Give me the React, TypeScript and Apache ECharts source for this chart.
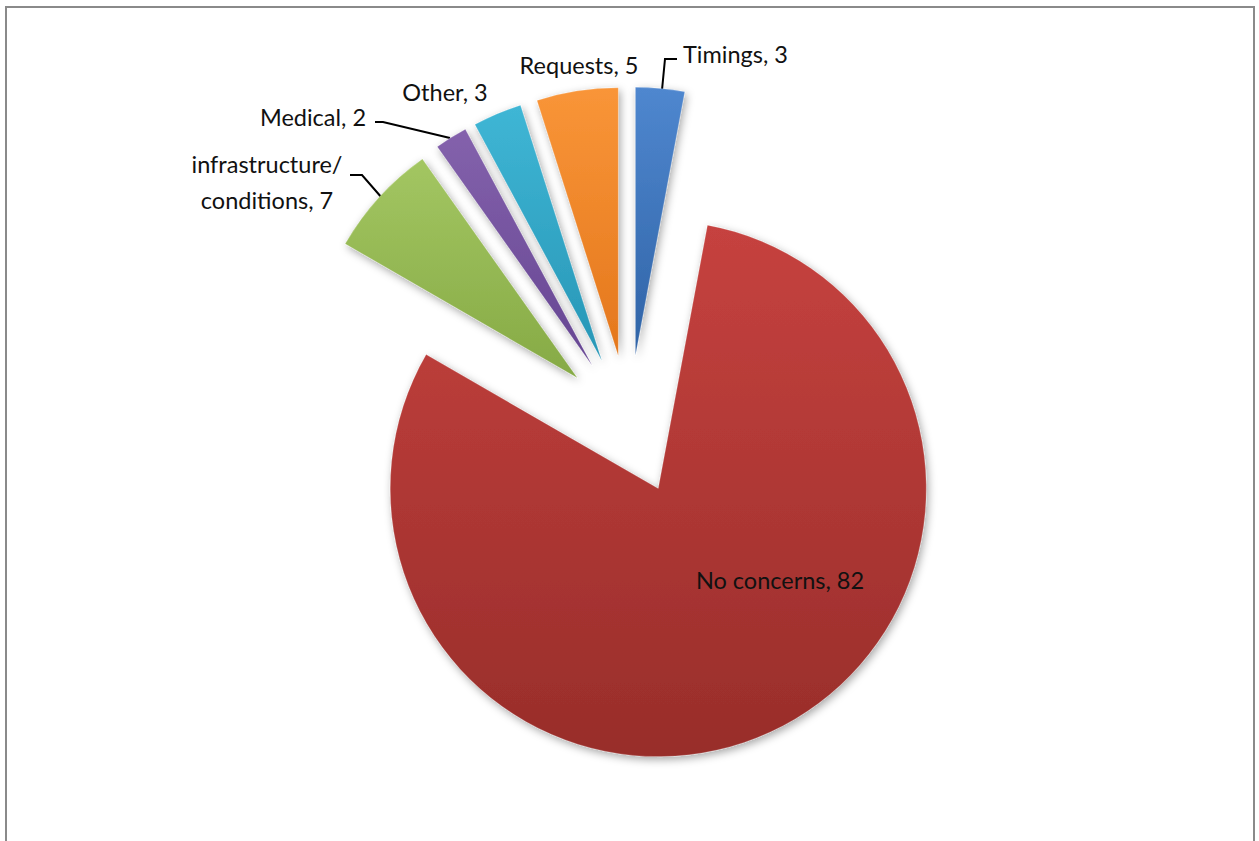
import React, { useEffect, useRef } from 'react';
import * as echarts from 'echarts';

const categories = ['Timings', 'No concerns', 'infrastructure/conditions', 'Medical', 'Other', 'Requests'];
const values = [3, 82, 7, 2, 3, 5];
const topColors = ['#4F87CF', '#C6423F', '#A3C662', '#8462AC', '#3FB6D5', '#F99538'];
const bottomColors = ['#2F63A6', '#982D2A', '#86AA45', '#654592', '#2796B6', '#E4771C'];

const labelPlacement: { x: number; y: number; align: string; line?: number[][] }[] = [
  { x: 683, y: 54, align: 'left', line: [[662, 90], [665, 59], [677, 59]] },
  { x: 780, y: 580, align: 'center' },
  { x: 267, y: 182, align: 'center', line: [[382, 198], [362, 175], [350, 175]] },
  { x: 313, y: 117, align: 'center', line: [[450, 138], [383, 122], [375, 122]] },
  { x: 445, y: 92, align: 'center' },
  { x: 579, y: 65, align: 'center' },
];

const CENTER = [629, 425];
const RADIUS = 268;
const EXPLODE = 70;

export default function App() {
  const ref = useRef<HTMLDivElement>(null);
  useEffect(() => {
    if (!ref.current) return;
    const chart = echarts.init(ref.current, undefined, { renderer: 'svg' });
    const total = values.reduce((a, b) => a + b, 0);
    let cum = 0;
    const series = categories.map((name, i) => {
      const v = values[i];
      const startDeg = (cum / total) * 360;
      const midDeg = ((cum + v / 2) / total) * 360;
      cum += v;
      const mid = (midDeg * Math.PI) / 180;
      const cx = CENTER[0] + EXPLODE * Math.sin(mid);
      const cy = CENTER[1] - EXPLODE * Math.cos(mid);
      const lp = labelPlacement[i];
      const layout: any = { x: lp.x, y: lp.y, align: lp.align, verticalAlign: 'middle' };
      if (lp.line) layout.labelLinePoints = lp.line;
      return {
        type: 'pie',
        name,
        center: [cx, cy],
        radius: RADIUS,
        startAngle: 90 - startDeg,
        clockwise: true,
        avoidLabelOverlap: false,
        silent: true,
        emphasis: { disabled: true },
        label: {
          show: true,
          position: 'outside',
          color: '#111111',
          fontFamily: 'Lato',
          fontSize: 23.5,
          lineHeight: 36,
          formatter: (p: any) => p.name.replace('/', '/\n') + ', ' + p.value,
        },
        labelLine: { show: !!lp.line, lineStyle: { color: '#000', width: 2 } },
        labelLayout: layout,
        data: [
          {
            name,
            value: v,
            itemStyle: {
              color: new echarts.graphic.LinearGradient(0, 0, 0, 1, [
                { offset: 0, color: topColors[i] },
                { offset: 1, color: bottomColors[i] },
              ]),
              borderColor: 'rgba(255,255,255,0.18)',
              borderWidth: 1,
              shadowBlur: 8,
              shadowOffsetX: 2,
              shadowOffsetY: 3,
              shadowColor: 'rgba(0,0,0,0.35)',
            },
          },
          {
            name: '',
            value: total - v,
            itemStyle: { color: 'rgba(0,0,0,0)', borderWidth: 0 },
            label: { show: false },
            labelLine: { show: false },
          },
        ],
      };
    });
    chart.setOption({
      animation: false,
      backgroundColor: '#ffffff',
      graphic: [
        {
          type: 'rect',
          shape: { x: 6, y: 7, width: 1248, height: 900 },
          style: { fill: 'none', stroke: '#8a8a8a', lineWidth: 2 },
          silent: true,
        },
      ],
      series,
    });
    return () => chart.dispose();
  }, []);
  return (
    <div
      ref={ref}
      style={{ position: 'fixed', left: 0, top: 0, width: 1259, height: 841 }}
    />
  );
}
